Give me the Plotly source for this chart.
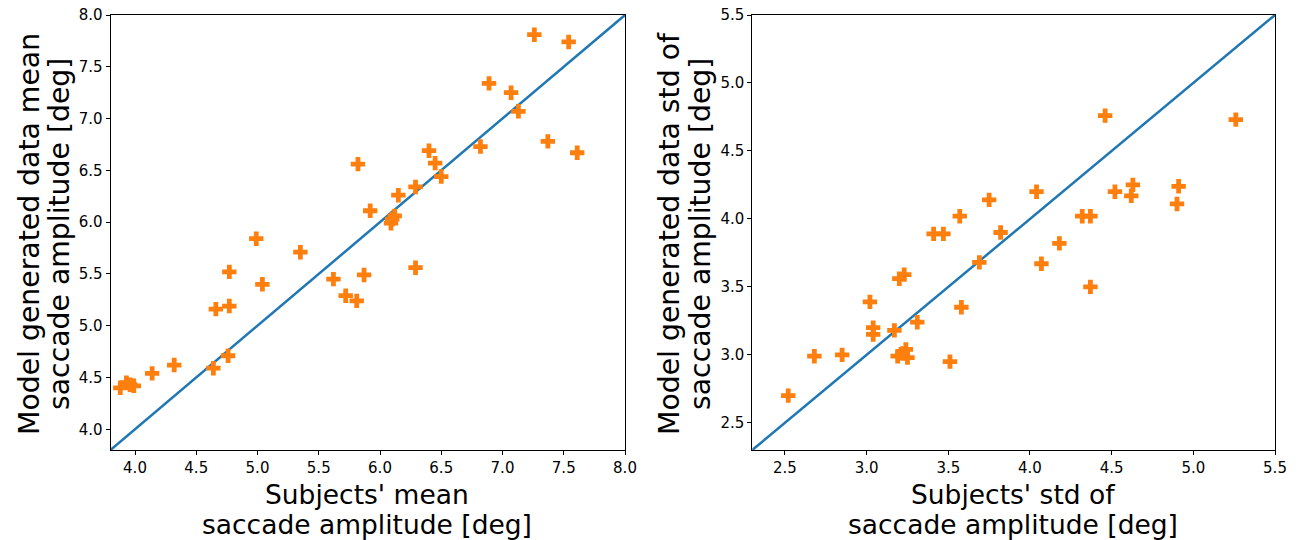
import plotly.graph_objects as go

# Left panel: mean saccade amplitude
mean_subjects = [7.26, 7.54, 6.89, 7.07, 7.13, 7.37, 7.61, 6.82, 5.82, 6.40, 6.45, 6.50,
                 6.29, 6.15, 5.92, 6.12, 6.09, 6.10, 4.99, 5.35, 6.29, 4.77, 5.04, 4.66,
                 4.77, 5.62, 5.87, 5.72, 5.81, 4.76, 4.64, 4.32, 4.14, 3.88, 3.93, 3.96, 3.99]
mean_model = [7.81, 7.74, 7.34, 7.25, 7.07, 6.78, 6.67, 6.73, 6.56, 6.69, 6.57, 6.44,
              6.34, 6.26, 6.11, 6.06, 5.99, 6.03, 5.84, 5.71, 5.56, 5.52, 5.40, 5.16,
              5.19, 5.45, 5.49, 5.29, 5.24, 4.71, 4.59, 4.62, 4.54, 4.40, 4.45, 4.43, 4.42]

# Right panel: std of saccade amplitude
std_subjects = [4.46, 5.26, 4.63, 4.62, 4.52, 4.91, 4.90, 4.04, 3.75, 3.57, 4.32, 4.37,
                3.41, 3.47, 3.82, 4.18, 4.07, 3.69, 4.37, 3.23, 3.20, 3.02, 3.58, 3.31,
                3.04, 3.04, 3.17, 3.19, 3.24, 3.25, 3.22, 3.51, 2.85, 2.68, 2.52]
std_model = [4.76, 4.73, 4.25, 4.17, 4.20, 4.24, 4.11, 4.20, 4.14, 4.02, 4.02, 4.02,
             3.89, 3.89, 3.90, 3.82, 3.67, 3.68, 3.50, 3.59, 3.56, 3.39, 3.35, 3.24,
             3.20, 3.15, 3.18, 2.99, 3.04, 2.98, 3.01, 2.95, 3.00, 2.99, 2.70]

left_range = [3.8, 8.0]
right_range = [2.3, 5.5]
left_ticks = [4.0, 4.5, 5.0, 5.5, 6.0, 6.5, 7.0, 7.5, 8.0]
right_ticks = [2.5, 3.0, 3.5, 4.0, 4.5, 5.0, 5.5]

left_xtitle = ["Subjects' mean", "saccade amplitude [deg]"]
right_xtitle = ["Subjects' std of", "saccade amplitude [deg]"]
left_ytitle = ["Model generated data mean", "saccade amplitude [deg]"]
right_ytitle = ["Model generated data std of", "saccade amplitude [deg]"]

W, H = 1303, 540
BLUE = "#1f77b4"
ORANGE = "#ff7f0e"
FONT = "DejaVu Sans"

fig = go.Figure()

fig.add_trace(go.Scatter(x=left_range, y=left_range, mode="lines",
                         line=dict(color=BLUE, width=2.5), xaxis="x", yaxis="y",
                         showlegend=False))
fig.add_trace(go.Scatter(x=mean_subjects, y=mean_model, mode="markers",
                         marker=dict(symbol="cross", size=12, color=ORANGE, line=dict(width=0)),
                         xaxis="x", yaxis="y", showlegend=False))
fig.add_trace(go.Scatter(x=right_range, y=right_range, mode="lines",
                         line=dict(color=BLUE, width=2.5), xaxis="x2", yaxis="y2",
                         showlegend=False))
fig.add_trace(go.Scatter(x=std_subjects, y=std_model, mode="markers",
                         marker=dict(symbol="cross", size=12, color=ORANGE, line=dict(width=0)),
                         xaxis="x2", yaxis="y2", showlegend=False))

def px_x(p):
    return p / W

def px_y(p):
    return 1 - p / H

axis_common = dict(showgrid=False, zeroline=False, showline=True, linecolor="black",
                   linewidth=1, mirror=True, ticks="outside", ticklen=4, tickwidth=1,
                   tickcolor="black", tickfont=dict(family=FONT, size=15, color="black"),
                   tickformat=".1f", automargin=False)

fig.update_layout(
    width=W, height=H,
    margin=dict(l=0, r=0, t=0, b=0),
    paper_bgcolor="white", plot_bgcolor="white",
    xaxis=dict(domain=[px_x(110.5), px_x(625)], range=left_range, tickvals=left_ticks,
               anchor="y", **axis_common),
    yaxis=dict(domain=[px_y(450), px_y(15)], range=left_range, tickvals=left_ticks,
               anchor="x", **axis_common),
    xaxis2=dict(domain=[px_x(752.3), px_x(1275)], range=right_range, tickvals=right_ticks,
                anchor="y2", **axis_common),
    yaxis2=dict(domain=[px_y(450), px_y(15)], range=right_range, tickvals=right_ticks,
                anchor="x2", **axis_common),
)

def add_line(text, xp, yp, angle, size):
    fig.add_annotation(xref="paper", yref="paper", showarrow=False,
                       font=dict(family=FONT, size=size, color="black"),
                       text=text, x=px_x(xp), y=px_y(yp), xanchor="center",
                       yanchor="middle", textangle=angle)

for i, t in enumerate(left_xtitle):
    add_line(t, 367, 494 + 30 * i, 0, 26.5)
for i, t in enumerate(right_xtitle):
    add_line(t, 1013, 494 + 30 * i, 0, 26.5)
for i, t in enumerate(left_ytitle):
    add_line(t, 29 + 30 * i, 234, -90, 28.3)
for i, t in enumerate(right_ytitle):
    add_line(t, 669 + 31 * i, 234, -90, 28.3)

fig.write_html("out.html")
